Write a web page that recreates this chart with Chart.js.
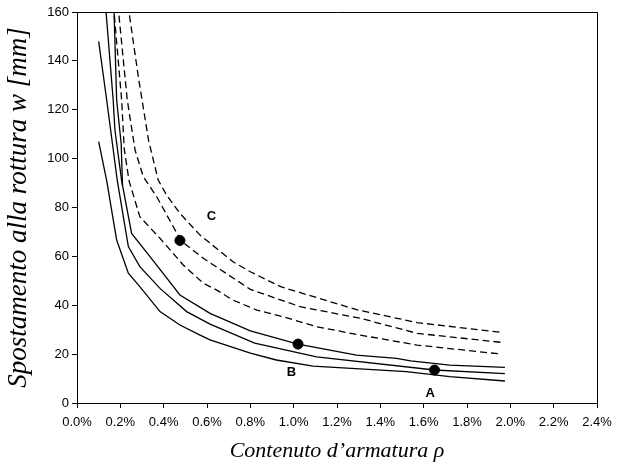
<!DOCTYPE html>
<html>
<head>
<meta charset="utf-8">
<script src="https://cdn.jsdelivr.net/npm/chart.js@4.4.1/dist/chart.umd.min.js"></script>
<style>
  html, body { margin: 0; padding: 0; background: #fff; }
</style>
</head>
<body>
<canvas id="rhoChart" width="622" height="468"></canvas>
<script>
// curves: [rho (%), w (mm)]
const solidLow = [[0.1, 107], [0.137, 91], [0.183, 66.7], [0.237, 53.1], [0.29, 47.6], [0.383, 37.4],
    [0.475, 31.9], [0.568, 27.8], [0.614, 25.8], [0.8, 20.4], [0.92, 17.6], [1.09, 15.1],
    [1.52, 12.8], [1.72, 10.8], [1.975, 9.0]];
const solidMid = [[0.1, 148], [0.137, 124], [0.186, 91], [0.237, 64], [0.29, 55.8], [0.383, 46.9],
    [0.506, 37.4], [0.614, 32.3], [0.82, 24.5], [1.106, 18.9], [1.65, 13.5], [1.975, 12.0]];
const solidHigh = [[0.12, 172], [0.134, 160], [0.167, 124], [0.175, 111.7], [0.206, 91], [0.252, 69.4],
    [0.337, 59.9], [0.475, 44.2], [0.614, 36.7], [0.8, 29.5], [1.02, 24.1], [1.29, 19.6],
    [1.475, 18.3], [1.54, 17.2], [1.72, 15.5], [1.975, 14.6]];
const solidExtra = [[0.165, 172], [0.171, 160], [0.183, 124], [0.204, 106], [0.21, 89]];
const dashLow = [[0.165, 172], [0.171, 160], [0.206, 124], [0.218, 104], [0.24, 91], [0.29, 76.2],
    [0.383, 67.4], [0.49, 56.5], [0.583, 49], [0.645, 46.2], [0.72, 42.1], [0.83, 38],
    [0.95, 35.3], [1.106, 31.2], [1.306, 27.8], [1.57, 23.7], [1.96, 20]];
const dashMid = [[0.185, 172], [0.192, 160], [0.232, 124], [0.268, 103.5], [0.306, 92.6], [0.368, 84.4],
    [0.48, 66.4], [0.583, 59.2], [0.8, 46.5], [1.03, 39.4], [1.306, 34.7], [1.57, 28.5], [1.96, 24.8]];
const dashHigh = [[0.225, 172], [0.24, 160], [0.283, 133.5], [0.33, 107.6], [0.375, 91.2], [0.414, 85],
    [0.475, 77.6], [0.568, 68.7], [0.72, 57.8], [0.8, 53.7], [0.94, 47.6], [1.29, 38.2],
    [1.57, 32.9], [1.96, 28.9]];

// marked points and curve labels
const markers = [[0.475, 66.5], [1.02, 24.1], [1.65, 13.5]];
const curveLabels = ['C', 'B', 'A'];
const curveLabelPos = [[0.62, 76.5], [0.99, 12.7], [1.63, 4.1]];

const xTitle = 'Contenuto d\u2019armatura \u03c1';
const yTitle = 'Spostamento alla rottura w [mm]';

const toPoints = arr => arr.map(p => ({ x: p[0], y: p[1] }));

function lineSet(arr, dashed) {
    return {
        data: toPoints(arr),
        borderColor: '#000',
        borderWidth: 1.3,
        borderDash: dashed ? [7, 4] : [],
        pointRadius: 0,
        fill: false,
        tension: 0
    };
}

// frame on top and right + letters A, B, C
const framePlugin = {
    id: 'frame',
    afterDatasetsDraw(chart) {
        const { ctx, chartArea: a, scales } = chart;
        ctx.save();
        ctx.strokeStyle = '#000';
        ctx.lineWidth = 1;
        ctx.beginPath();
        ctx.moveTo(a.left, a.top + 0.5);
        ctx.lineTo(a.right + 0.5, a.top + 0.5);
        ctx.lineTo(a.right + 0.5, a.bottom);
        ctx.stroke();

        ctx.fillStyle = '#000';
        ctx.font = 'bold 13px "Liberation Sans", Arial, sans-serif';
        ctx.textAlign = 'center';
        ctx.textBaseline = 'middle';
        curveLabels.forEach((t, i) => {
            const px = scales.x.getPixelForValue(curveLabelPos[i][0]);
            const py = scales.y.getPixelForValue(curveLabelPos[i][1]);
            ctx.fillText(t, px, py);
        });
        ctx.restore();
    }
};

Chart.defaults.color = '#000';
Chart.defaults.font.family = '"Liberation Sans", Arial, sans-serif';

new Chart(document.getElementById('rhoChart').getContext('2d'), {
    type: 'line',
    data: {
        datasets: [
            lineSet(solidLow, false),
            lineSet(solidMid, false),
            lineSet(solidHigh, false),
            lineSet(solidExtra, false),
            lineSet(dashLow, true),
            lineSet(dashMid, true),
            lineSet(dashHigh, true),
            {
                type: 'scatter',
                data: toPoints(markers),
                pointRadius: 5,
                pointBackgroundColor: '#000',
                pointBorderColor: '#000',
                showLine: false
            }
        ]
    },
    options: {
        responsive: false,
        animation: false,
        devicePixelRatio: 1,
        layout: { padding: { left: 0, top: 12, right: 25, bottom: 0 } },
        plugins: { legend: { display: false }, tooltip: { enabled: false } },
        scales: {
            x: {
                type: 'linear',
                min: 0,
                max: 2.4,
                afterFit: s => { s.height = 65; },
                ticks: {
                    stepSize: 0.2,
                    font: { size: 13 },
                    padding: 7,
                    maxRotation: 0,
                    callback: v => v.toFixed(1) + '%'
                },
                grid: { drawOnChartArea: false, tickLength: 5, color: '#000' },
                border: { color: '#000', width: 1 },
                title: {
                    display: true,
                    text: xTitle,
                    font: { family: '"Liberation Serif", "Times New Roman", serif', style: 'italic', size: 22 },
                    padding: { top: 0, bottom: 4 }
                }
            },
            y: {
                type: 'linear',
                min: 0,
                max: 160,
                afterFit: s => { s.width = 77; },
                ticks: { stepSize: 20, font: { size: 13 }, padding: 3 },
                grid: { drawOnChartArea: false, tickLength: 5, color: '#000' },
                border: { color: '#000', width: 1 },
                title: {
                    display: true,
                    text: yTitle,
                    font: { family: '"Liberation Serif", "Times New Roman", serif', style: 'italic', size: 27 },
                    padding: { top: 3, bottom: 0 }
                }
            }
        }
    },
    plugins: [framePlugin]
});
</script>
</body>
</html>
